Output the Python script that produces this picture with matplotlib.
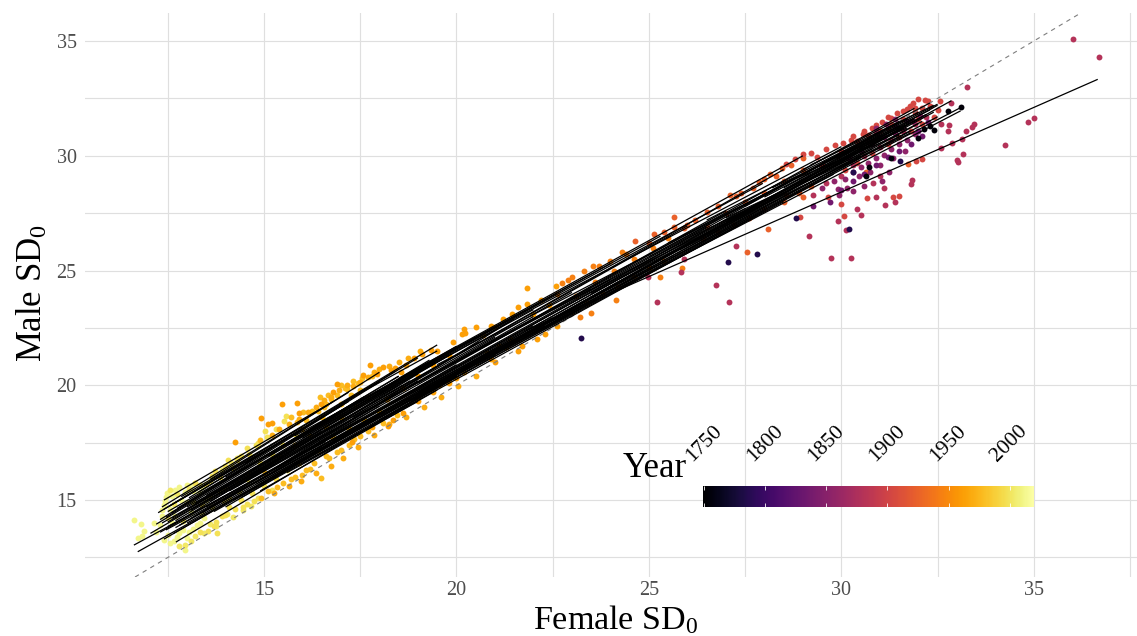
import numpy as np
from matplotlib import pyplot as plt

plt.rcParams["font.family"] = ["Liberation Serif", "DejaVu Serif"]
plt.rcParams["mathtext.fontset"] = "custom"
plt.rcParams["mathtext.rm"] = "Liberation Serif"
plt.rcParams["mathtext.default"] = "rm"

W, H = 1137, 636

# female sd, male sd per cohort
cohort_2012 = [(11.62, 14.12), (11.8, 13.95), (11.89, 13.65), (11.72, 13.33), (11.83, 13.42), (12.96, 12.81),
               (12.57, 13.11), (12.66, 13.23), (13.0, 13.33), (12.39, 14.78), (12.8, 15.58), (12.7, 15.44),
               (12.99, 15.64), (13.08, 15.61), (12.35, 14.3), (12.45, 15.15), (12.6, 14.0), (12.2, 13.6),
               (12.3, 13.9), (12.5, 13.5), (12.75, 13.4), (12.9, 13.7), (12.85, 15.0), (13.1, 14.5),
               (13.3, 15.3), (12.55, 14.6), (13.25, 13.9), (13.45, 14.2), (12.15, 14.0), (13.2, 15.73),
               (12.4, 13.25), (12.42, 14.95), (12.48, 15.3), (12.62, 15.2), (12.95, 15.35), (13.15, 15.4),
               (13.4, 15.55), (12.8, 13.55), (13.05, 13.6), (13.15, 13.75), (13.35, 14.0), (12.35, 14.55),
               (12.7, 14.3), (13.0, 14.9), (13.5, 15.0)]
cohort_2003 = [(12.55, 15.45), (12.75, 15.25), (13.05, 15.5), (13.35, 15.65), (13.6, 15.85), (13.9, 16.3),
               (14.15, 16.6), (14.3, 16.85), (14.05, 14.4), (13.75, 13.85), (13.45, 13.55), (13.2, 13.45),
               (12.95, 13.05), (12.8, 13.0), (13.1, 13.2), (14.2, 14.25), (14.45, 14.55), (14.65, 14.75),
               (13.6, 13.95), (12.5, 14.2), (12.65, 14.85), (12.9, 14.1), (13.15, 14.9), (13.4, 14.4),
               (13.65, 14.7), (13.85, 15.4), (14.1, 15.1), (14.35, 15.4), (14.55, 15.9)]
cohort_1998 = [(13.79, 13.58), (13.55, 13.66), (13.71, 13.87), (13.34, 13.62), (13.72, 16.28), (14.07, 16.74),
               (14.55, 17.25), (15.02, 18.02), (15.07, 17.73), (15.52, 18.44), (15.56, 18.67), (13.9, 14.3),
               (14.1, 14.7), (14.4, 15.0), (14.7, 15.3), (13.5, 15.7), (13.85, 16.0), (14.2, 16.4),
               (14.4, 16.9), (14.8, 17.4), (15.3, 18.1), (13.4, 14.8), (13.6, 15.2), (14.0, 15.5),
               (14.3, 15.8), (14.6, 16.2), (14.9, 16.6), (15.2, 17.0), (15.5, 17.4), (15.8, 17.9),
               (15.0, 15.6), (15.3, 15.9), (15.6, 16.3), (13.95, 14.95), (14.45, 14.7), (14.75, 14.95),
               (13.65, 16.05), (14.0, 16.5), (14.3, 16.75), (14.6, 17.0), (14.85, 17.5), (13.75, 14.05),
               (14.0, 14.35), (14.25, 14.6), (14.55, 14.85), (14.85, 15.1), (15.2, 15.45), (13.2, 15.75)]
cohort_1978 = [(14.9, 17.64), (15.02, 16.2), (14.91, 15.07), (15.34, 15.55), (15.1, 15.4), (15.8, 16.0),
               (16.1, 16.3), (16.47, 15.96), (16.3, 16.6), (16.6, 16.9), (16.9, 17.1), (17.2, 17.4),
               (17.5, 17.8), (15.7, 18.6), (16.02, 18.85), (16.1, 18.5), (16.4, 18.9), (16.6, 19.2),
               (16.45, 19.47), (16.9, 19.6), (17.1, 19.9), (17.3, 20.2), (15.4, 16.9), (15.8, 17.4),
               (16.2, 17.8), (16.6, 18.2), (17.0, 18.6), (17.4, 19.1), (17.7, 19.5), (15.9, 16.6),
               (16.4, 17.2), (16.8, 17.7), (17.2, 18.1), (17.6, 18.5), (18.0, 18.9), (16.0, 18.1),
               (16.5, 18.6), (17.0, 19.2), (17.5, 19.8), (17.0, 20.0), (17.55, 20.3), (16.65, 19.57),
               (15.5, 15.75), (15.7, 15.9), (16.0, 16.1), (16.2, 16.35), (16.7, 16.85), (17.0, 17.2),
               (17.35, 17.65), (17.7, 18.0), (18.1, 18.35), (18.45, 18.7), (15.85, 18.4), (16.25, 18.9),
               (16.75, 19.4), (17.15, 19.85), (17.45, 20.1), (17.8, 20.4), (16.55, 19.05), (17.25, 19.6)]
cohort_1970 = [(15.2, 17.85), (15.4, 18.1), (15.65, 18.3), (15.9, 18.55), (16.15, 18.85), (16.35, 19.05),
               (16.55, 19.35), (16.75, 19.5), (16.95, 19.8), (17.15, 20.0), (17.3, 19.95), (17.5, 20.15),
               (17.7, 20.35), (17.85, 20.6), (18.0, 20.7), (18.25, 20.85), (18.5, 21.0), (18.75, 21.2),
               (19.05, 21.5), (15.25, 15.3), (15.65, 15.6), (15.95, 15.85), (16.35, 16.2), (16.75, 16.5),
               (17.05, 16.85), (17.45, 17.3), (17.85, 17.85), (18.25, 18.3), (18.7, 18.6), (19.15, 19.05),
               (19.6, 19.5), (20.05, 19.95), (20.5, 20.4)]
cohort_1962 = [(14.25, 17.51), (14.92, 18.58), (15.11, 18.3), (15.2, 18.38), (15.46, 19.19), (15.87, 19.21),
               (15.91, 18.79), (16.47, 19.17), (16.8, 19.72), (16.89, 20.05), (17.58, 20.44), (17.93, 20.49),
               (17.75, 20.9), (18.1, 20.8), (18.4, 20.75), (18.7, 20.9), (18.9, 21.2), (17.29, 17.54),
               (17.8, 18.2), (18.34, 18.51), (18.23, 18.22), (18.6, 18.8), (19.0, 19.3), (19.4, 19.7),
               (19.8, 20.1), (18.2, 19.4), (18.6, 19.9), (19.0, 20.4), (19.4, 20.9), (19.8, 21.3),
               (20.14, 22.23), (20.2, 22.46), (20.22, 22.26), (20.52, 22.52), (20.2, 20.6), (20.5, 21.0),
               (20.8, 21.4), (21.1, 21.7), (21.4, 22.0), (21.2, 22.9), (21.6, 23.4), (21.82, 23.54),
               (21.82, 24.25), (22.3, 22.23), (22.0, 23.1), (22.4, 23.5), (22.58, 24.32), (20.9, 22.6),
               (19.5, 21.5), (19.9, 21.9), (21.7, 21.7), (18.3, 20.65), (18.55, 20.6), (19.1, 21.35),
               (19.35, 21.55), (20.7, 22.2), (21.0, 22.55), (21.45, 23.1), (22.2, 23.7), (19.0, 19.55),
               (19.55, 20.0), (20.0, 20.3), (20.9, 21.15), (21.3, 21.65), (21.0, 21.0), (21.6, 21.5),
               (22.1, 22.0), (22.6, 22.6)]
cohort_1945 = [(22.6, 24.0), (22.9, 24.6), (23.2, 22.98), (23.31, 24.96), (23.49, 23.13), (23.55, 25.22),
               (23.0, 23.2), (23.4, 23.6), (23.8, 24.0), (24.14, 23.71), (24.2, 24.3), (24.6, 24.7),
               (23.7, 25.2), (24.0, 25.4), (24.29, 25.81), (24.4, 25.7), (25.3, 24.73), (25.0, 25.1),
               (25.4, 25.4), (25.87, 25.13), (23.1, 23.9), (23.6, 24.5), (24.1, 25.0), (24.6, 25.5),
               (25.1, 26.0), (25.5, 26.4), (23.0, 24.7), (22.75, 24.45)]
cohort_1925 = [(24.65, 26.3), (25.13, 26.6), (25.0, 26.2), (25.4, 26.7), (25.66, 27.34), (25.66, 26.9),
               (25.9, 26.85), (26.2, 27.2), (26.5, 27.55), (26.8, 27.8), (27.1, 28.3), (27.4, 28.4),
               (27.54, 25.83), (27.7, 28.6), (28.0, 29.0), (28.3, 29.1), (28.1, 26.79), (26.4, 26.4),
               (26.8, 26.7), (27.2, 27.0), (27.6, 27.3), (28.0, 27.7), (28.5, 28.0), (28.9, 28.4),
               (29.2, 28.7), (26.0, 27.0), (26.5, 26.9), (27.0, 27.5), (27.5, 28.0), (28.0, 28.4),
               (28.5, 28.9), (29.0, 29.4), (28.7, 29.6), (29.0, 29.9), (29.0, 28.2), (30.63, 29.3),
               (31.74, 29.66), (27.25, 28.25), (27.85, 28.85), (28.15, 29.2), (28.45, 29.45), (28.55, 28.3)]
cohort_1905 = [(28.8, 29.85), (29.0, 30.07), (29.37, 29.93), (29.83, 30.47), (30.26, 30.7), (30.0, 30.2),
               (30.4, 30.65), (30.7, 30.9), (31.0, 31.1), (31.3, 31.4), (31.45, 31.88), (31.6, 31.6),
               (31.78, 32.19), (31.99, 32.46), (32.17, 32.42), (32.26, 32.38), (31.9, 32.1), (32.1, 32.1),
               (32.3, 32.15), (32.57, 32.38), (31.2, 31.7), (30.9, 31.35), (30.6, 31.1), (30.3, 30.85),
               (29.9, 30.0), (29.5, 29.6), (30.1, 29.4), (30.4, 29.7), (30.8, 30.1), (31.2, 30.5),
               (31.5, 30.8), (31.8, 31.1), (32.1, 31.4), (32.4, 31.7), (32.1, 29.85), (31.93, 29.76),
               (31.5, 28.24), (31.33, 28.2), (30.66, 28.14), (30.08, 27.37), (30.0, 27.9), (28.92, 27.33),
               (29.66, 28.2), (31.9, 31.9), (32.0, 31.6), (32.5, 32.0), (30.05, 30.55), (30.55, 30.95),
               (30.8, 31.2), (31.05, 31.45), (31.3, 31.65), (31.6, 31.95), (31.7, 32.05), (31.85, 32.3),
               (29.6, 30.3), (29.2, 30.1), (28.55, 29.65)]
cohort_1880 = [(36.03, 35.1), (36.68, 34.3), (33.26, 33.0), (34.84, 31.46), (35.0, 31.63), (34.25, 30.47),
               (33.44, 31.37), (33.4, 31.26), (33.24, 31.1), (32.77, 31.07), (32.8, 31.33), (32.6, 31.4),
               (33.13, 30.72), (32.88, 30.56), (32.6, 30.33), (33.16, 30.07), (33.0, 29.8), (33.03, 29.72),
               (31.83, 28.94), (31.8, 28.78), (31.4, 28.0), (31.14, 27.84), (30.9, 28.2), (31.12, 28.59),
               (30.82, 28.8), (31.0, 29.1), (30.4, 27.67), (30.52, 27.4), (29.9, 27.18), (30.12, 26.76),
               (29.17, 26.51), (29.73, 25.55), (30.26, 25.54), (32.86, 32.3), (26.75, 24.38), (27.08, 23.64),
               (27.27, 26.06), (25.83, 24.93), (25.9, 25.5), (24.98, 24.71), (25.22, 23.64), (29.27, 28.3),
               (29.6, 28.8), (30.0, 29.1), (30.3, 29.6), (30.6, 30.0), (31.0, 30.4), (31.3, 30.7),
               (31.6, 31.1), (31.9, 31.4), (32.2, 31.7), (30.9, 31.0), (31.2, 31.2), (30.7, 30.6)]
cohort_1855 = [(29.5, 28.6), (29.8, 28.9), (30.1, 29.0), (30.3, 29.3), (30.5, 29.5), (30.7, 29.7),
               (30.9, 29.9), (31.1, 30.05), (31.3, 30.3), (31.5, 30.5), (31.7, 30.7), (31.9, 30.95),
               (30.2, 29.9), (30.5, 30.2), (30.8, 30.5), (31.1, 30.8), (31.4, 31.0), (31.6, 31.25),
               (31.85, 31.5), (32.05, 31.75), (30.9, 31.2), (31.15, 31.4), (31.4, 31.6), (31.0, 29.6),
               (31.35, 29.9), (31.65, 30.2), (29.9, 28.55), (30.15, 28.6), (30.3, 28.45), (30.6, 28.7),
               (29.95, 28.3), (30.45, 29.1), (30.75, 29.3), (31.05, 28.9), (31.25, 29.3)]
cohort_1835 = [(29.27, 27.8), (29.7, 28.0), (30.0, 28.5), (30.3, 28.9), (30.6, 29.2), (30.9, 29.6),
               (31.2, 29.95), (31.5, 30.2), (31.8, 30.5), (32.1, 30.85), (31.4, 31.3), (31.0, 30.8),
               (30.5, 30.3), (31.7, 31.5), (32.0, 31.1), (32.25, 31.45)]
cohort_1785 = [(28.83, 27.31), (30.2, 26.79), (27.06, 25.37), (31.52, 29.78), (30.3, 29.3), (23.23, 22.04),
               (27.8, 25.74), (31.5, 31.2)]
cohort_1755 = [(33.1, 32.13), (32.77, 31.94), (32.4, 31.14), (32.3, 31.3), (32.14, 31.16), (32.0, 30.77),
               (31.3, 29.9), (30.71, 29.5), (30.63, 29.1)]

cohorts = [(2012, cohort_2012), (2003, cohort_2003), (1998, cohort_1998), (1978, cohort_1978), (1970, cohort_1970),
           (1962, cohort_1962), (1945, cohort_1945), (1925, cohort_1925), (1905, cohort_1905), (1880, cohort_1880),
           (1855, cohort_1855), (1835, cohort_1835), (1785, cohort_1785), (1755, cohort_1755)]

# x0, y0, x1, y1 of the fitted lines
fit_lines = [(11.62, 13.04, 16.6, 17.55), (11.72, 12.75, 17.3, 17.95), (12.05, 13.55, 18.6, 20.0),
             (12.2, 13.95, 19.3, 21.1), (12.25, 14.45, 19.5, 21.76), (12.3, 14.15, 18.0, 20.15),
             (12.4, 15.0, 16.8, 19.3), (12.35, 14.7, 17.2, 19.7), (12.4, 13.3, 18.2, 18.9),
             (12.71, 13.17, 20.1, 20.55), (12.5, 14.05, 21.0, 22.0), (12.45, 13.7, 22.3, 22.6),
             (12.5, 14.5, 20.0, 21.7), (12.6, 14.2, 23.0, 24.05), (12.7, 14.9, 18.4, 20.6),
             (12.7, 13.8, 24.5, 24.9), (12.8, 14.4, 20.6, 21.9), (13.0, 14.7, 26.0, 26.95),
             (13.1, 14.2, 25.0, 25.25), (13.2, 14.3, 27.5, 27.7), (13.4, 15.0, 19.8, 21.4),
             (13.5, 14.7, 22.0, 22.6), (13.6, 15.9, 18.0, 20.57), (13.8, 15.0, 29.0, 29.2),
             (14.0, 16.0, 17.8, 20.0), (14.2, 15.0, 24.2, 24.5), (14.5, 16.6, 19.0, 21.2),
             (14.8, 15.7, 30.5, 30.4), (15.0, 16.1, 21.5, 22.9), (15.1, 16.9, 22.6, 24.0),
             (15.5, 16.3, 31.0, 30.8), (15.6, 17.4, 20.95, 22.5), (15.8, 17.8, 24.0, 25.3),
             (16.0, 16.6, 28.0, 27.6), (16.3, 18.2, 25.3, 26.5), (16.5, 17.2, 31.6, 31.2),
             (17.0, 18.0, 26.0, 26.4), (17.0, 19.2, 19.5, 21.5), (17.2, 17.9, 32.0, 31.4),
             (17.8, 19.6, 27.96, 28.8), (18.0, 18.9, 29.5, 29.1), (18.5, 20.3, 29.0, 30.0),
             (18.6, 19.3, 33.1, 31.96), (19.0, 19.7, 32.5, 31.7), (19.5, 20.9, 32.5, 32.25),
             (20.0, 20.6, 31.9, 31.6), (20.5, 21.5, 31.9, 32.07), (21.0, 21.5, 32.86, 32.4),
             (21.5, 22.9, 30.0, 30.4), (22.0, 22.4, 33.1, 32.1), (21.8, 22.38, 36.66, 33.33),
             (23.0, 23.6, 32.0, 31.6), (24.0, 24.3, 32.4, 31.9), (25.0, 25.6, 31.5, 31.5),
             (25.8, 25.9, 31.8, 31.1), (26.5, 26.5, 32.2, 31.8), (27.0, 27.1, 32.5, 32.2),
             (27.5, 27.8, 32.0, 31.9), (28.0, 28.2, 31.5, 31.3), (28.5, 28.6, 31.0, 30.9),
             (29.0, 29.4, 32.3, 32.3),
             (12.3, 13.6, 17.5, 18.5), (12.35, 14.0, 16.5, 18.0), (12.4, 14.6, 15.8, 17.9),
             (12.45, 14.25, 17.0, 18.9), (12.5, 13.85, 16.0, 17.0), (12.55, 14.75, 16.3, 18.4),
             (12.6, 14.45, 18.5, 20.4), (12.65, 13.55, 17.0, 17.7), (12.7, 14.1, 15.5, 16.9),
             (12.75, 14.65, 17.6, 19.5), (12.8, 13.9, 18.0, 19.1), (12.85, 15.15, 16.0, 18.2),
             (12.9, 14.2, 19.0, 20.5), (13.0, 14.0, 16.5, 17.3), (13.05, 15.1, 17.2, 19.3),
             (13.1, 14.55, 18.8, 20.2), (13.2, 14.85, 19.2, 20.9), (13.3, 15.35, 17.0, 19.1),
             (13.4, 14.45, 20.0, 20.9), (13.5, 15.2, 18.5, 20.0), (13.6, 14.95, 21.0, 22.1),
             (13.7, 14.5, 19.5, 20.0), (13.8, 15.65, 17.6, 19.4), (13.9, 15.25, 20.5, 21.8),
             (14.0, 14.7, 18.0, 18.65), (14.1, 15.4, 21.5, 22.4), (14.2, 16.1, 18.5, 20.4),
             (14.3, 15.6, 19.0, 20.2), (14.4, 15.1, 20.0, 20.4), (14.6, 15.9, 22.0, 23.0),
             (14.7, 16.3, 19.8, 21.3), (14.9, 15.4, 19.5, 19.8), (15.0, 16.9, 20.5, 22.1),
             (15.2, 16.0, 21.0, 21.4), (15.4, 17.0, 19.0, 20.6), (15.6, 16.2, 19.0, 19.3),
             (15.8, 16.9, 23.0, 23.6), (16.0, 17.7, 21.5, 22.9), (16.2, 17.0, 22.5, 22.95),
             (16.4, 17.5, 24.0, 24.6), (16.6, 18.5, 20.0, 21.6), (16.8, 17.6, 25.5, 25.7),
             (17.0, 17.5, 21.0, 21.3), (17.3, 18.6, 23.5, 24.2), (17.5, 19.2, 22.0, 23.3),
             (18.0, 18.5, 24.5, 24.5), (18.2, 19.4, 26.5, 26.9), (18.8, 19.3, 28.5, 28.0),
             (19.0, 20.1, 27.0, 27.6), (19.5, 20.0, 30.5, 29.9), (20.0, 21.3, 28.5, 29.4),
             (20.5, 20.9, 29.8, 29.2), (21.0, 22.0, 31.0, 31.0), (22.5, 23.3, 30.8, 30.5),
             (23.5, 24.0, 32.1, 31.5), (24.5, 25.0, 31.8, 31.0), (25.5, 26.2, 32.3, 32.0),
             (26.0, 26.4, 30.5, 30.0), (26.5, 27.2, 31.7, 31.6), (27.0, 27.3, 30.8, 30.3),
             (28.2, 28.6, 32.0, 31.6), (28.8, 29.0, 31.5, 30.9), (29.2, 29.6, 32.4, 32.2),
             (29.5, 29.7, 31.7, 31.2)]

major_ticks = [15, 20, 25, 30, 35]
minor_ticks = [12.5, 17.5, 22.5, 27.5, 32.5, 37.5]
legend_years = [1750, 1800, 1850, 1900, 1950, 2000]
year_min, year_max = 1750, 2020


def main():
    fig = plt.figure(figsize=(W / 100, H / 100), dpi=100)
    ax = fig.add_axes([85 / W, (H - 577) / H, (W - 85) / W, (577 - 13) / H])
    cmap = plt.get_cmap("inferno")

    ax.set_xlim(10.35, 37.68)
    ax.set_ylim(11.65, 36.22)
    for s in ax.spines.values():
        s.set_visible(False)
    ax.set_xticks(major_ticks)
    ax.set_yticks(major_ticks)
    ax.set_xticks(minor_ticks, minor=True)
    ax.set_yticks(minor_ticks[:-1], minor=True)
    ax.grid(True, which="both", color="#dfdfdf", lw=0.85)
    ax.set_axisbelow(True)
    ax.tick_params(which="both", length=0)
    ax.tick_params(axis="both", labelsize=14.5, labelcolor="#4d4d4d", pad=6)
    ax.tick_params(axis="x", pad=3)

    for year, pts in cohorts:
        xs, ys = zip(*pts)
        ax.scatter(xs, ys, s=18, lw=0, color=cmap((year - year_min) / (year_max - year_min)), zorder=2)

    # identity line
    ax.axline((15, 15), slope=1, color="#7f7f7f", lw=0.8, ls=(0, (4, 4)), zorder=3)

    for x0, y0, x1, y1 in fit_lines:
        ax.plot([x0, x1], [y0, y1], color="black", lw=0.9, zorder=4, solid_capstyle="butt")

    fig.text(616 / W, (H - 620) / H, "Female SD$_0$", fontsize=24.5, ha="center", va="center")
    fig.text(33 / W, (H - 293) / H, "Male SD$_0$", fontsize=25, ha="center", va="center", rotation=90)

    # colour legend
    cax = fig.add_axes([703 / W, (H - 507) / H, 331 / W, 21 / H])
    cax.imshow(np.linspace(0, 1, 300)[None, :], cmap=cmap, aspect="auto",
               extent=(year_min - 1, year_max, 0, 1))
    cax.vlines(legend_years, 0, 0.2, color="white", lw=0.6)
    cax.vlines(legend_years, 0.8, 1, color="white", lw=0.6)
    cax.set_yticks([])
    cax.set_xticks(legend_years)
    cax.tick_params(axis="x", length=0, top=True, bottom=False, labeltop=True, labelbottom=False, pad=15)
    for t in cax.get_xticklabels():
        t.set(rotation=45, fontsize=15.5, ha="center", va="bottom", color="black")
    for s in cax.spines.values():
        s.set_visible(False)
    fig.text(623 / W, (H - 477) / H, "Year", fontsize=25, ha="left", va="baseline")

    fig.savefig("out.png", dpi=100)


if __name__ == "__main__":
    main()
